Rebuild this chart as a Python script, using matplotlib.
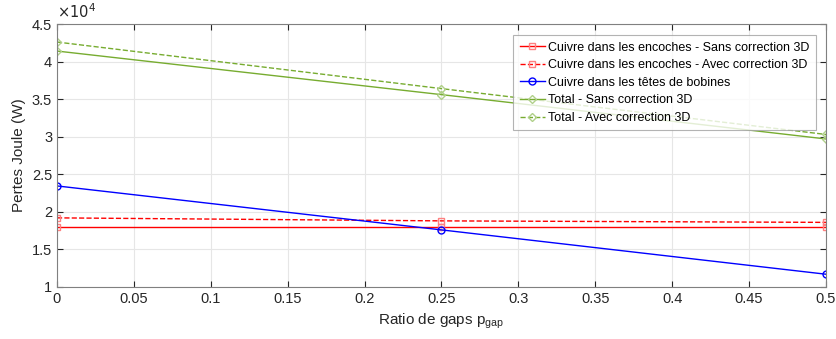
import matplotlib
matplotlib.use("Agg")
import matplotlib.pyplot as plt
import numpy as np

plt.rcParams['font.family'] = ['Liberation Sans', 'DejaVu Sans']

p_gap = [0, 0.25, 0.5]
encoches_sans = [1.80e4, 1.80e4, 1.80e4]
encoches_avec = [1.92e4, 1.88e4, 1.86e4]
tetes = [2.345e4, 1.76e4, 1.17e4]
total_sans = [4.14e4, 3.56e4, 2.97e4]
total_avec = [4.26e4, 3.64e4, 3.03e4]
labels = ["Cuivre dans les encoches - Sans correction 3D",
          "Cuivre dans les encoches - Avec correction 3D",
          "Cuivre dans les têtes de bobines",
          "Total - Sans correction 3D",
          "Total - Avec correction 3D"]

green = '#77AC30'
fig = plt.figure(figsize=(8.37, 3.39), dpi=100)
ax = fig.add_axes([57/837, 1-287/339, (826-57)/837, (287-24)/339])

ax.plot(p_gap, encoches_sans, '-', color='red', lw=1, marker='s', ms=4, mfc='none', mec='#ff8080', label=labels[0])
ax.plot(p_gap, encoches_avec, '--', color='red', lw=1, marker='s', ms=4, mfc='none', mec='#ff8080', label=labels[1])
ax.plot(p_gap, tetes, '-', color='blue', lw=1, marker='o', ms=5, mfc='none', mec='blue', label=labels[2])
ax.plot(p_gap, total_sans, '-', color=green, lw=1, marker='D', ms=4, mfc='none', mec='#b0d08a', label=labels[3])
ax.plot(p_gap, total_avec, '--', color=green, lw=1, marker='D', ms=4, mfc='none', mec='#b0d08a', label=labels[4])

ax.set_xlim(0, 0.5)
ax.set_ylim(1e4, 4.5e4)
ax.set_xticks(np.arange(0, 0.501, 0.05))
ax.set_xticklabels(['0', '0.05', '0.1', '0.15', '0.2', '0.25', '0.3', '0.35', '0.4', '0.45', '0.5'])
yt = np.arange(1e4, 4.51e4, 0.5e4)
ax.set_yticks(yt)
ax.set_yticklabels(['1', '1.5', '2', '2.5', '3', '3.5', '4', '4.5'])
ax.grid(True, color='#e6e6e6', lw=0.8)
ax.set_axisbelow(True)
ax.tick_params(direction='in', top=True, right=True, labelsize=10.5, colors='#262626', length=4, width=0.8)
for s in ax.spines.values():
    s.set_color('#808080')
    s.set_linewidth(0.8)
ax.text(0, 1.01, r'$\times 10^4$', transform=ax.transAxes, fontsize=10.5, color='#262626', va='bottom', ha='left')
ax.set_xlabel(r'Ratio de gaps p$_{\mathregular{gap}}$', fontsize=11, color='#262626')
ax.set_ylabel('Pertes Joule (W)', fontsize=11, color='#262626')

leg = ax.legend(loc='upper right', bbox_to_anchor=(0.987, 0.957), fontsize=9, frameon=True, fancybox=False,
                edgecolor='#a0a0a0', handlelength=2.0, borderpad=0.5, labelspacing=0.45, handletextpad=0.3,
                borderaxespad=0)
leg.get_frame().set_linewidth(0.8)

fig.savefig('out.png', dpi=100)
